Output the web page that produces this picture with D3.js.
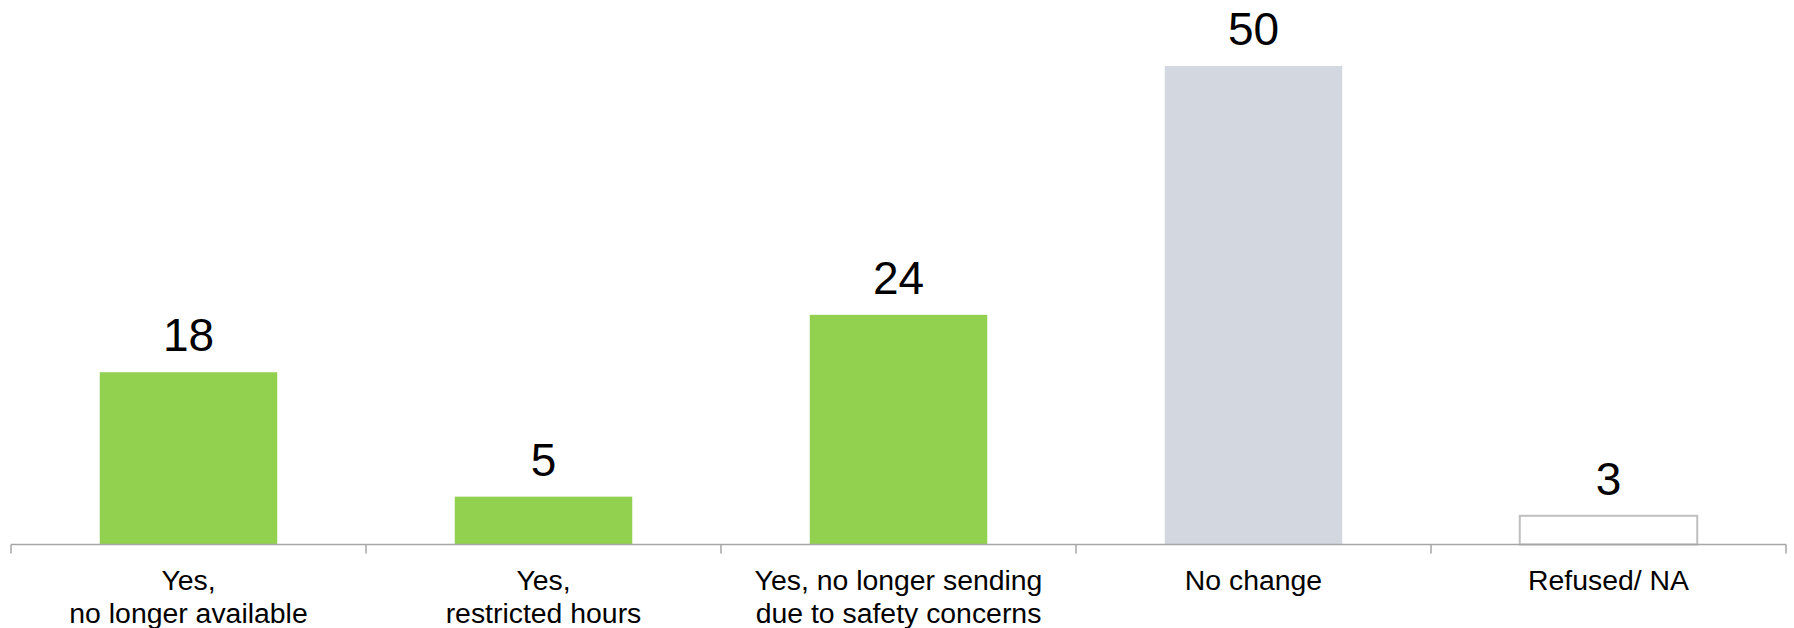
<!DOCTYPE html>
<html>
<head>
<meta charset="utf-8">
<script src="https://cdn.jsdelivr.net/npm/d3@7"></script>
<style>
  html, body { margin: 0; padding: 0; background: #fff; }
  svg { display: block; }
  text { font-family: "Liberation Sans", Arial, sans-serif; }
</style>
</head>
<body>
<svg id="chart" width="1794" height="628"></svg>
<script>
const categories = [
  ["Yes,", "no longer available"],
  ["Yes,", "restricted hours"],
  ["Yes, no longer sending", "due to safety concerns"],
  ["No change"],
  ["Refused/ NA"]
];
const values = [18, 5, 24, 50, 3];
const fills = ["#92D050", "#92D050", "#92D050", "#D3D7E0", "#FFFFFF"];
const strokes = ["none", "none", "none", "none", "#BFBFBF"];

const svg = d3.select("#chart");
const x0 = 11, x1 = 1786, baseY = 544.5, topY = 66;

const x = d3.scaleBand()
  .domain(d3.range(values.length))
  .range([x0, x1])
  .paddingInner(0.5)
  .paddingOuter(0.25);

const y = d3.scaleLinear().domain([0, 50]).range([baseY, topY]);

// bars
svg.selectAll("rect.bar")
  .data(values)
  .enter().append("rect")
  .attr("class", "bar")
  .attr("x", (d, i) => x(i))
  .attr("width", x.bandwidth())
  .attr("y", d => y(d))
  .attr("height", d => baseY - y(d))
  .attr("fill", (d, i) => fills[i])
  .attr("stroke", (d, i) => strokes[i])
  .attr("stroke-width", (d, i) => strokes[i] === "none" ? 0 : 2);

// value labels
svg.selectAll("text.val")
  .data(values)
  .enter().append("text")
  .attr("class", "val")
  .attr("x", (d, i) => x(i) + x.bandwidth() / 2)
  .attr("y", d => y(d) - 21)
  .attr("text-anchor", "middle")
  .attr("font-size", 46)
  .attr("fill", "#000")
  .text(d => d);

// axis line and ticks
const step = x.step();
svg.append("line")
  .attr("x1", x0).attr("x2", x1)
  .attr("y1", baseY).attr("y2", baseY)
  .attr("stroke", "#A6A6A6").attr("stroke-width", 1.5);

svg.selectAll("line.tick")
  .data(d3.range(values.length + 1))
  .enter().append("line")
  .attr("class", "tick")
  .attr("x1", i => x0 + i * step)
  .attr("x2", i => x0 + i * step)
  .attr("y1", baseY)
  .attr("y2", baseY + 9)
  .attr("stroke", "#A6A6A6").attr("stroke-width", 1.5);

// category labels
const cat = svg.selectAll("text.cat")
  .data(categories)
  .enter().append("text")
  .attr("class", "cat")
  .attr("text-anchor", "middle")
  .attr("font-size", 28.4)
  .attr("fill", "#000");

cat.each(function(lines, i) {
  const t = d3.select(this);
  lines.forEach((ln, j) => {
    t.append("tspan")
      .attr("x", x(i) + x.bandwidth() / 2)
      .attr("y", 590 + j * 33)
      .text(ln);
  });
});
</script>
</body>
</html>
